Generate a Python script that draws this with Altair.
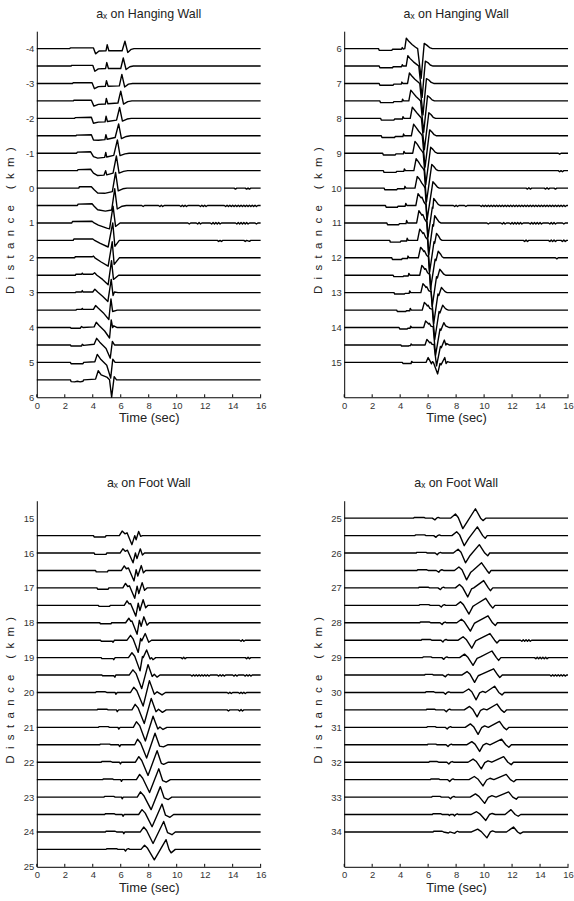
import altair as alt
import pandas as pd

# ---------------------------------------------------------------------------
# Time axis
TIME_TICKS = [0, 2, 4, 6, 8, 10, 12, 14, 16]
T_END = 16.0

# Each trace: station distance (km) -> list of (time s, amplitude) knots.
# Amplitude is in km units of the record section, positive = upward swing.
# Every trace rests on its baseline at t = 0 and t = 16.

# a_x on hanging wall, stations -4 ... 5.5 km
HW_NEAR = {
    -4.0: [(2.35, 0), (2.4, 0.02), (4.05, 0.02), (4.2, -0.15), (4.45, -0.07), (4.95, -0.06), (5.03, 0.11),
           (5.15, -0.06), (6.1, -0.06), (6.3, 0.21), (6.5, -0.11), (6.75, -0.02), (6.95, 0)],
    -3.5: [(2.45, 0), (2.5, 0.02), (4.0, 0.02), (4.15, -0.15), (4.4, -0.08), (4.92, -0.07), (5.0, 0.1),
           (5.12, -0.07), (6.0, -0.07), (6.18, 0.23), (6.38, -0.1), (6.65, -0.02), (6.9, 0)],
    -3.0: [(2.55, 0), (2.6, 0.02), (3.95, 0.02), (4.12, -0.15), (4.4, -0.09), (4.9, -0.08), (4.98, 0.08),
           (5.1, -0.08), (5.9, -0.07), (6.08, 0.26), (6.28, -0.1), (6.55, -0.02), (6.85, 0)],
    -2.5: [(2.6, 0), (2.65, 0.02), (3.9, 0.02), (4.08, -0.15), (4.4, -0.1), (4.9, -0.09), (4.97, 0.07),
           (5.08, -0.08), (5.8, -0.06), (6.0, 0.28), (6.2, -0.09), (6.5, -0.02), (6.8, 0)],
    -2.0: [(2.7, 0), (2.75, 0.02), (3.9, 0.03), (4.05, -0.14), (4.4, -0.11), (4.88, -0.1), (4.95, 0.06),
           (5.05, -0.09), (5.7, -0.05), (5.92, 0.31), (6.12, -0.08), (6.45, -0.02), (6.75, 0)],
    -1.5: [(2.8, 0), (2.85, 0.02), (3.9, 0.03), (4.05, -0.12), (4.4, -0.13), (4.87, -0.11), (4.94, 0.03),
           (5.03, -0.1), (5.6, -0.05), (5.85, 0.34), (6.05, -0.08), (6.4, -0.02), (6.7, 0)],
    -1.0: [(2.85, 0), (2.9, 0.03), (3.85, 0.04), (4.05, -0.1), (4.35, -0.14), (4.85, -0.12), (4.93, 0.02),
           (5.0, -0.11), (5.5, -0.06), (5.76, 0.38), (5.95, -0.07), (6.3, -0.02), (6.6, 0)],
    -0.5: [(2.9, 0), (2.95, 0.03), (3.85, 0.04), (4.05, -0.07), (4.35, -0.14), (4.8, -0.13), (4.92, 0.0),
           (5.0, -0.12), (5.45, -0.07), (5.69, 0.42), (5.88, -0.07), (6.2, -0.02), (6.5, 0)],
    0.0: [(3.0, 0), (3.05, 0.04), (3.9, 0.04), (4.1, -0.05), (4.35, -0.14), (4.85, -0.15), (5.4, -0.1),
          (5.63, 0.45), (5.82, -0.08), (6.15, -0.02), (6.45, 0), (14.1, 0), (14.2, -0.03), (14.3, 0.0),
          (14.9, 0), (15.0, -0.03), (15.1, 0.0), (15.2, -0.03), (15.3, 0.0)],
    0.5: [(2.9, 0), (2.95, 0.04), (3.95, 0.05), (4.1, -0.02), (4.35, -0.12), (4.9, -0.16), (5.35, -0.13),
          (5.57, 0.48), (5.75, -0.1), (6.1, -0.02), (6.4, 0), (7.5, 0), (7.6, -0.03), (7.7, 0.0),
          (8.7, 0), (8.8, -0.03), (8.9, 0.01), (9.0, -0.03), (9.1, 0.0), (10.2, 0), (10.3, -0.03),
          (10.4, 0.01), (10.5, -0.03), (10.6, 0.01), (10.7, -0.03), (10.8, 0.0), (11.6, 0), (11.7, -0.03),
          (11.8, 0.01), (11.9, -0.03), (12.0, 0.01), (12.1, -0.03), (12.2, 0.0), (13.4, 0), (13.5, -0.03),
          (13.6, 0.01), (13.7, -0.03), (13.8, 0.01), (13.9, -0.03), (14.0, 0.01), (14.1, -0.03),
          (14.2, 0.01), (14.3, -0.03), (14.4, 0.01), (14.5, -0.03), (14.6, 0.01), (14.7, -0.03),
          (14.8, 0.01), (14.9, -0.03), (15.0, 0.01), (15.1, -0.03), (15.2, 0.01), (15.3, -0.03),
          (15.4, 0.01), (15.5, -0.03), (15.6, 0.01), (15.7, -0.03), (15.8, 0.0)],
    1.0: [(2.5, 0), (2.55, 0.04), (3.95, 0.05), (4.1, 0.0), (4.4, -0.06), (5.0, -0.15), (5.2, -0.17),
          (5.45, 0.48), (5.63, -0.1), (5.95, 0), (10.8, 0), (10.9, -0.03), (11.0, 0.0), (11.4, 0),
          (11.5, -0.03), (11.6, 0.01), (11.7, -0.03), (11.8, 0.0), (12.4, 0), (12.5, -0.03), (12.6, 0.01),
          (12.7, -0.03), (12.8, 0.01), (12.9, -0.03), (13.0, 0.01), (13.1, -0.03), (13.2, 0.0), (14.2, 0),
          (14.3, -0.03), (14.4, 0.01), (14.5, -0.03), (14.6, 0.01), (14.7, -0.03), (14.8, 0.01),
          (14.9, -0.03), (15.0, 0.01), (15.1, -0.03), (15.2, 0.0), (15.6, 0), (15.7, -0.03), (15.8, 0.0)],
    1.5: [(2.6, 0), (2.65, 0.04), (4.0, 0.04), (4.1, 0.01), (4.5, -0.08), (5.1, -0.19), (5.43, 0.5),
          (5.58, -0.17), (5.9, 0), (12.9, 0), (13.0, -0.03), (13.1, 0.0), (13.2, -0.03), (13.3, 0.0),
          (14.8, 0), (14.9, -0.03), (15.0, 0.0), (15.2, -0.03), (15.3, 0.0)],
    2.0: [(2.7, 0), (2.75, 0.03), (3.95, 0.03), (4.05, 0.05), (4.15, 0.0), (4.6, -0.12), (5.1, -0.24),
          (5.39, 0.46), (5.53, -0.19), (5.9, 0)],
    2.5: [(2.75, 0), (2.8, 0.03), (3.2, 0.03), (3.25, 0.06), (3.3, 0.03), (4.0, 0.03), (4.13, 0.07),
          (4.3, 0.0), (4.7, -0.12), (5.1, -0.27), (5.34, 0.42), (5.48, -0.12), (5.85, 0)],
    3.0: [(2.75, 0), (2.8, 0.02), (3.2, 0.02), (3.25, 0.06), (3.3, 0.02), (4.0, 0.02), (4.15, 0.1),
          (4.35, 0.02), (4.7, -0.1), (5.08, -0.25), (5.32, 0.38), (5.45, -0.08), (5.55, 0.02), (5.8, 0)],
    3.5: [(2.8, 0), (2.85, 0.02), (3.2, 0.02), (3.25, 0.05), (3.3, 0.02), (4.05, 0.02), (4.2, 0.13),
          (4.4, 0.05), (4.8, -0.1), (5.15, -0.27), (5.3, 0.32), (5.42, -0.04), (5.75, 0)],
    4.0: [(2.4, 0), (2.45, -0.02), (3.1, -0.02), (3.2, 0.03), (3.3, 0.0), (4.1, 0.02), (4.25, 0.15),
          (4.45, 0.06), (4.85, -0.1), (5.2, -0.3), (5.32, 0.22), (5.42, 0.0), (5.5, 0.05), (5.75, 0)],
    4.5: [(2.4, 0), (2.45, -0.03), (3.2, -0.03), (3.25, 0.02), (3.35, -0.01), (4.1, 0.02), (4.28, 0.19),
          (4.5, 0.08), (4.95, -0.1), (5.25, -0.38), (5.4, 0.1), (5.55, 0.0), (5.8, 0)],
    5.0: [(2.4, 0), (2.45, -0.04), (3.3, -0.04), (3.35, 0.0), (4.15, 0.02), (4.32, 0.23), (4.55, 0.1),
          (5.0, -0.08), (5.28, -0.45), (5.43, 0.09), (5.6, 0.0), (5.85, 0)],
    5.5: [(2.4, 0), (2.45, -0.05), (2.7, -0.06), (2.9, -0.04), (3.1, -0.06), (3.3, -0.04), (3.35, 0.0),
          (4.2, 0.02), (4.39, 0.26), (4.6, 0.14), (5.0, 0.08), (5.2, 0.0), (5.35, -0.5), (5.53, 0.09),
          (5.7, 0.0), (5.9, 0)],
}

# a_x on hanging wall, stations 6 ... 15 km
HW_FAR = {
    6.0: [(2.45, 0), (2.5, -0.05), (3.4, -0.05), (3.45, -0.02), (4.1, -0.02), (4.15, 0.03), (4.22, -0.01),
          (4.33, 0.0), (4.44, 0.3), (4.6, 0.22), (4.85, 0.12), (5.1, 0.04), (5.25, 0.0), (5.5, -0.85),
          (5.72, 0.15), (5.9, 0.1), (6.1, 0.03), (6.3, 0)],
    6.5: [(2.5, 0), (2.55, -0.05), (3.45, -0.05), (3.5, -0.02), (4.1, -0.02), (4.15, 0.04), (4.22, 0.0),
          (4.43, 0.0), (4.55, 0.3), (4.7, 0.22), (4.95, 0.12), (5.2, 0.04), (5.33, 0.0), (5.57, -0.9),
          (5.8, 0.14), (5.98, 0.1), (6.15, 0.03), (6.35, 0)],
    7.0: [(2.5, 0), (2.55, -0.05), (3.5, -0.05), (3.55, -0.02), (4.08, -0.02), (4.12, 0.04), (4.2, 0.0),
          (4.53, 0.0), (4.66, 0.3), (4.82, 0.22), (5.05, 0.12), (5.28, 0.04), (5.4, 0.0), (5.63, -0.9),
          (5.88, 0.14), (6.05, 0.1), (6.22, 0.03), (6.4, 0)],
    7.5: [(2.55, 0), (2.6, -0.05), (3.5, -0.05), (3.55, -0.02), (4.13, -0.02), (4.17, 0.05), (4.25, 0.0),
          (4.62, 0.0), (4.76, 0.31), (4.92, 0.23), (5.15, 0.12), (5.36, 0.04), (5.46, 0.0), (5.68, -0.9),
          (5.96, 0.15), (6.12, 0.1), (6.28, 0.03), (6.45, 0)],
    8.0: [(2.6, 0), (2.65, -0.05), (3.55, -0.05), (3.6, -0.02), (4.16, -0.02), (4.2, 0.05), (4.28, 0.0),
          (4.72, 0.0), (4.87, 0.32), (5.03, 0.24), (5.25, 0.13), (5.45, 0.04), (5.52, 0.0), (5.73, -0.9),
          (6.05, 0.16), (6.2, 0.11), (6.36, 0.03), (6.53, 0)],
    8.5: [(2.65, 0), (2.7, -0.05), (3.6, -0.05), (3.65, -0.02), (4.2, -0.02), (4.24, 0.05), (4.32, 0.0),
          (4.8, 0.0), (4.96, 0.33), (5.12, 0.25), (5.33, 0.13), (5.52, 0.04), (5.58, 0.0), (5.78, -0.9),
          (6.11, 0.17), (6.27, 0.11), (6.43, 0.03), (6.6, 0)],
    9.0: [(2.75, 0), (2.8, -0.05), (3.65, -0.05), (3.7, -0.02), (4.23, -0.02), (4.27, 0.05), (4.35, 0.0),
          (4.9, 0.0), (5.06, 0.34), (5.22, 0.26), (5.42, 0.13), (5.6, 0.04), (5.65, 0.0), (5.83, -0.9),
          (6.18, 0.17), (6.34, 0.11), (6.5, 0.03), (6.65, 0), (15.3, 0), (15.4, -0.03), (15.5, 0.0)],
    9.5: [(2.8, 0), (2.85, -0.05), (3.7, -0.05), (3.75, -0.02), (4.26, -0.02), (4.3, 0.05), (4.38, 0.0),
          (4.98, 0.0), (5.14, 0.34), (5.3, 0.26), (5.48, 0.14), (5.66, 0.05), (5.72, 0.0), (5.88, -0.9),
          (6.26, 0.18), (6.42, 0.11), (6.58, 0.03), (6.72, 0), (15.3, 0), (15.4, -0.03), (15.5, 0.0),
          (15.6, -0.03), (15.7, 0.0)],
    10.0: [(2.85, 0), (2.9, -0.05), (3.75, -0.05), (3.8, -0.02), (4.3, -0.02), (4.34, 0.05), (4.42, 0.0),
           (5.06, 0.0), (5.22, 0.33), (5.38, 0.26), (5.55, 0.14), (5.72, 0.05), (5.78, 0.0), (5.93, -0.9),
           (6.34, 0.18), (6.5, 0.11), (6.66, 0.03), (6.8, 0), (13.0, 0), (13.1, -0.03), (13.2, 0.01),
           (13.3, -0.03), (13.4, 0.0), (14.3, 0), (14.4, -0.03), (14.5, 0.01), (14.6, -0.03), (14.7, 0.0),
           (15.0, 0), (15.1, -0.03), (15.2, 0.0)],
    10.5: [(2.95, 0), (3.0, -0.05), (3.8, -0.05), (3.85, -0.02), (4.36, -0.02), (4.4, 0.06), (4.48, 0.0),
           (5.12, 0.0), (5.28, 0.34), (5.42, 0.26), (5.5, 0.22), (5.56, 0.24), (5.7, 0.1), (5.84, 0.02),
           (5.99, -0.9), (6.3, -0.05), (6.34, -0.08), (6.4, 0.2), (6.56, 0.12), (6.72, 0.03), (6.85, 0),
           (7.8, 0), (7.9, -0.03), (8.0, 0.01), (8.1, -0.03), (8.2, 0.0), (8.6, 0), (8.7, -0.03), (8.8, 0.0),
           (9.7, 0), (9.8, -0.03), (9.9, 0.01), (10.0, -0.03), (10.1, 0.01), (10.2, -0.03), (10.3, 0.01),
           (10.4, -0.03), (10.5, 0.01), (10.6, -0.03), (10.7, 0.01), (10.8, -0.03), (10.9, 0.01),
           (11.0, -0.03), (11.1, 0.01), (11.2, -0.03), (11.3, 0.01), (11.4, -0.03), (11.5, 0.01),
           (11.6, -0.03), (11.7, 0.01), (11.8, -0.03), (11.9, 0.01), (12.0, -0.03), (12.1, 0.01),
           (12.2, -0.03), (12.3, 0.01), (12.4, -0.03), (12.5, 0.01), (12.6, -0.03), (12.7, 0.01),
           (12.8, -0.03), (12.9, 0.01), (13.0, -0.03), (13.1, 0.01), (13.2, -0.03), (13.3, 0.01),
           (13.4, -0.03), (13.5, 0.01), (13.6, -0.03), (13.7, 0.01), (13.8, -0.03), (13.9, 0.01),
           (14.0, -0.03), (14.1, 0.01), (14.2, -0.03), (14.3, 0.01), (14.4, -0.03), (14.5, 0.01),
           (14.6, -0.03), (14.7, 0.01), (14.8, -0.03), (14.9, 0.01), (15.0, -0.03), (15.1, 0.01),
           (15.2, -0.03), (15.3, 0.01), (15.4, -0.03), (15.5, 0.01), (15.6, -0.03), (15.7, 0.01),
           (15.8, -0.03), (15.9, 0.0)],
    11.0: [(3.05, 0), (3.1, -0.05), (3.9, -0.05), (3.95, -0.02), (4.42, -0.02), (4.46, 0.07), (4.54, 0.0),
           (5.18, 0.0), (5.34, 0.35), (5.48, 0.27), (5.56, 0.22), (5.62, 0.24), (5.76, 0.1), (5.9, 0.02),
           (6.05, -0.9), (6.33, -0.05), (6.38, -0.09), (6.47, 0.21), (6.62, 0.12), (6.78, 0.03), (6.9, 0),
           (10.2, 0), (10.3, -0.03), (10.4, 0.0), (11.2, 0), (11.3, -0.03), (11.4, 0.01), (11.5, -0.03),
           (11.6, 0.0), (11.8, 0), (11.9, -0.03), (12.0, 0.01), (12.1, -0.03), (12.2, 0.01), (12.3, -0.03),
           (12.4, 0.01), (12.5, -0.03), (12.6, 0.01), (12.7, -0.03), (12.8, 0.0), (13.2, 0), (13.3, -0.03),
           (13.4, 0.01), (13.5, -0.03), (13.6, 0.01), (13.7, -0.03), (13.8, 0.01), (13.9, -0.03),
           (14.0, 0.01), (14.1, -0.03), (14.2, 0.0), (14.6, 0), (14.7, -0.03), (14.8, 0.01), (14.9, -0.03),
           (15.0, 0.01), (15.1, -0.03), (15.2, 0.0), (15.6, 0), (15.7, -0.03), (15.8, 0.0)],
    11.5: [(3.25, 0), (3.3, -0.05), (4.0, -0.05), (4.05, -0.02), (4.46, -0.02), (4.5, 0.06), (4.58, 0.0),
           (5.24, 0.0), (5.4, 0.32), (5.54, 0.25), (5.62, 0.2), (5.68, 0.22), (5.82, 0.09), (5.96, 0.02),
           (6.11, -0.9), (6.42, -0.04), (6.47, -0.08), (6.6, 0.2), (6.75, 0.12), (6.88, 0.03), (7.0, 0),
           (12.8, 0), (12.9, -0.03), (13.0, 0.01), (13.1, -0.03), (13.2, 0.0), (14.6, 0), (14.7, -0.03),
           (14.8, 0.01), (14.9, -0.03), (15.0, 0.01), (15.1, -0.03), (15.2, 0.0), (15.5, 0), (15.6, -0.03),
           (15.7, 0.01), (15.8, -0.03), (15.9, 0.0)],
    12.0: [(3.4, 0), (3.45, -0.05), (4.1, -0.05), (4.15, -0.02), (4.52, -0.02), (4.56, 0.05), (4.64, 0.0),
           (5.3, 0.0), (5.46, 0.3), (5.6, 0.24), (5.68, 0.18), (5.74, 0.2), (5.88, 0.08), (6.02, 0.02),
           (6.17, -0.9), (6.5, -0.04), (6.56, -0.08), (6.72, 0.19), (6.88, 0.11), (7.0, 0.03), (7.12, 0),
           (15.1, 0), (15.2, -0.03), (15.3, 0.0)],
    12.5: [(3.5, 0), (3.55, -0.04), (4.2, -0.04), (4.25, -0.02), (4.58, -0.02), (4.62, 0.05), (4.7, 0.0),
           (5.4, 0.0), (5.55, 0.28), (5.68, 0.22), (5.76, 0.17), (5.82, 0.19), (5.96, 0.07), (6.12, 0.02),
           (6.29, -0.9), (6.6, -0.04), (6.66, -0.08), (6.83, 0.17), (6.98, 0.1), (7.12, 0.03), (7.25, 0)],
    13.0: [(3.56, 0), (3.61, -0.04), (4.3, -0.04), (4.35, -0.02), (4.64, -0.02), (4.68, 0.05), (4.76, 0.0),
           (5.48, 0.0), (5.63, 0.26), (5.76, 0.2), (5.84, 0.15), (5.9, 0.17), (6.04, 0.06), (6.22, 0.02),
           (6.4, -0.88), (6.7, -0.04), (6.76, -0.08), (6.95, 0.15), (7.1, 0.08), (7.24, 0.02), (7.36, 0)],
    13.5: [(3.75, 0), (3.8, -0.04), (4.4, -0.04), (4.45, -0.02), (4.68, -0.02), (4.72, 0.05), (4.8, 0.0),
           (5.58, 0.0), (5.73, 0.22), (5.86, 0.17), (5.94, 0.12), (6.0, 0.14), (6.12, 0.05), (6.3, 0.02),
           (6.47, -0.85), (6.78, -0.04), (6.84, -0.08), (7.04, 0.14), (7.18, 0.07), (7.32, 0.02), (7.45, 0)],
    14.0: [(3.92, 0), (3.97, -0.04), (4.5, -0.04), (4.55, -0.02), (4.71, -0.02), (4.75, 0.04), (4.83, 0.0),
           (5.68, 0.0), (5.82, 0.19), (5.95, 0.14), (6.03, 0.1), (6.09, 0.12), (6.2, 0.04), (6.36, 0.02),
           (6.53, -0.8), (6.85, -0.04), (6.91, -0.08), (7.12, 0.14), (7.25, 0.05), (7.4, 0.02), (7.52, 0)],
    14.5: [(4.05, 0), (4.1, -0.03), (4.6, -0.03), (4.65, -0.02), (4.74, -0.02), (4.78, 0.03), (4.86, 0.0),
           (5.78, 0.0), (5.91, 0.16), (6.04, 0.1), (6.12, 0.06), (6.18, 0.08), (6.28, 0.02), (6.42, 0.01),
           (6.6, -0.6), (6.88, -0.04), (6.94, -0.08), (7.16, 0.14), (7.27, 0.0), (7.33, 0.04), (7.5, 0)],
    15.0: [(4.15, 0), (4.2, -0.03), (4.78, -0.03), (4.82, 0.03), (4.9, 0.0), (5.85, 0.0), (6.0, 0.14),
           (6.12, 0.05), (6.24, -0.04), (6.3, 0.02), (6.38, 0.0), (6.68, -0.33), (6.85, -0.03), (6.92, -0.07),
           (7.19, 0.14), (7.28, -0.03), (7.38, 0.02), (7.55, 0)],
}

# a_x on foot wall, stations 15.5 ... 24.5 km
FW_NEAR = {
    15.5: [(4.05, 0), (4.1, -0.04), (4.9, -0.04), (4.95, 0), (5.9, 0.0), (6.1, 0.13), (6.3, 0.05), (6.45, 0.08),
           (6.8, -0.26), (7.0, 0.0), (7.1, -0.12), (7.28, 0.12), (7.42, -0.02), (7.55, 0)],
    16.0: [(4.1, 0), (4.15, -0.04), (4.95, -0.04), (5.0, 0), (5.95, 0.0), (6.15, 0.12), (6.32, 0.05), (6.48, 0.08),
           (6.88, -0.28), (7.05, 0.0), (7.16, -0.16), (7.4, 0.12), (7.55, -0.06), (7.7, 0)],
    16.5: [(4.2, 0), (4.25, -0.04), (5.05, -0.04), (5.1, 0), (6.05, 0.0), (6.25, 0.13), (6.4, 0.05), (6.55, 0.07),
           (6.95, -0.3), (7.1, 0.02), (7.22, -0.16), (7.47, 0.14), (7.62, -0.07), (7.78, 0)],
    17.0: [(4.3, 0), (4.35, -0.04), (5.1, -0.04), (5.15, 0), (6.15, 0.0), (6.34, 0.13), (6.5, 0.04), (6.62, 0.06),
           (7.0, -0.3), (7.17, 0.05), (7.29, -0.16), (7.53, 0.15), (7.7, -0.07), (7.88, 0)],
    17.5: [(4.4, 0), (4.45, -0.03), (5.2, -0.03), (5.25, 0), (6.25, 0.0), (6.45, 0.13), (6.6, 0.04), (6.7, 0.05),
           (7.08, -0.31), (7.25, 0.06), (7.37, -0.15), (7.6, 0.16), (7.78, -0.07), (7.95, 0)],
    18.0: [(4.5, 0), (4.55, -0.03), (5.3, -0.03), (5.35, 0), (6.35, 0.0), (6.58, 0.13), (6.72, 0.04), (6.8, 0.05),
           (7.17, -0.33), (7.33, 0.07), (7.46, -0.1), (7.65, 0.17), (7.88, -0.07), (8.05, 0)],
    18.5: [(4.55, 0), (4.6, -0.03), (5.4, -0.03), (5.45, -0.06), (5.55, 0.0), (6.45, 0.0), (6.7, 0.14),
           (6.88, 0.04), (7.25, -0.35), (7.42, 0.05), (7.5, -0.02), (7.75, 0.19), (8.0, -0.06), (8.2, 0),
           (14.5, 0), (14.6, -0.03), (14.7, 0.01), (14.8, -0.03), (14.9, 0.0)],
    19.0: [(4.6, 0), (4.65, -0.03), (5.45, -0.03), (5.5, -0.06), (5.6, 0.0), (6.55, 0.0), (6.8, 0.14),
           (7.0, 0.04), (7.38, -0.38), (7.55, 0.03), (7.6, 0.0), (7.85, 0.22), (8.1, -0.04), (8.2, 0.0),
           (8.3, -0.06), (8.5, 0), (10.3, 0), (10.4, -0.03), (10.5, 0.01), (10.6, -0.03), (10.7, 0.0),
           (14.9, 0), (15.0, -0.03), (15.1, 0.01), (15.2, -0.03), (15.3, 0.0)],
    19.5: [(4.65, 0), (4.7, -0.02), (5.5, -0.02), (5.58, -0.06), (5.65, 0.0), (6.6, 0.0), (6.87, 0.15),
           (7.1, 0.04), (7.5, -0.39), (7.95, 0.3), (8.25, -0.04), (8.4, 0.02), (8.6, -0.06), (8.8, 0),
           (11.0, 0), (11.1, -0.03), (11.2, 0.01), (11.3, -0.03), (11.4, 0.01), (11.5, -0.03), (11.6, 0.01),
           (11.7, -0.03), (11.8, 0.01), (11.9, -0.03), (12.0, 0.01), (12.1, -0.03), (12.2, 0.01),
           (12.3, -0.03), (12.4, 0.0), (12.9, 0), (13.0, -0.03), (13.1, 0.01), (13.2, -0.03), (13.3, 0.01),
           (13.4, -0.03), (13.5, 0.0), (14.0, 0), (14.1, -0.03), (14.2, 0.01), (14.3, -0.03), (14.4, 0.0),
           (14.8, 0), (14.9, -0.03), (15.0, 0.01), (15.1, -0.03), (15.2, 0.01), (15.3, -0.03), (15.4, 0.0)],
    20.0: [(4.2, 0), (4.25, 0.02), (4.9, 0.02), (5.0, 0.0), (5.6, 0.0), (5.65, -0.05), (5.75, 0.0), (6.7, 0.0),
           (6.93, 0.15), (7.15, 0.05), (7.6, -0.39), (8.05, 0.34), (8.4, -0.05), (8.6, 0.02), (8.95, -0.07),
           (9.2, 0), (13.6, 0), (13.7, -0.03), (13.8, 0.01), (13.9, -0.03), (14.0, 0.0), (14.4, 0),
           (14.5, -0.03), (14.6, 0.01), (14.7, -0.03), (14.8, 0.01), (14.9, -0.03), (15.0, 0.0)],
    20.5: [(4.3, 0), (4.35, 0.02), (5.0, 0.02), (5.1, 0.0), (5.7, 0.0), (5.75, -0.05), (5.85, 0.0), (6.8, 0.0),
           (7.03, 0.16), (7.25, 0.05), (7.68, -0.39), (8.18, 0.33), (8.52, -0.05), (8.7, 0.02), (8.98, -0.07),
           (9.25, 0), (13.6, 0), (13.7, -0.03), (13.8, 0.0), (14.4, 0), (14.5, -0.03), (14.6, 0.01),
           (14.7, -0.03), (14.8, 0.0)],
    21.0: [(4.4, 0), (4.45, 0.02), (5.1, 0.02), (5.2, 0.0), (5.8, 0.0), (5.86, -0.05), (5.95, 0.0), (6.9, 0.0),
           (7.12, 0.16), (7.35, 0.05), (7.76, -0.39), (8.31, 0.32), (8.65, -0.05), (8.8, 0.01), (9.02, -0.06),
           (9.3, 0)],
    21.5: [(4.5, 0), (4.55, 0.02), (5.2, 0.02), (5.3, 0.0), (5.85, 0.0), (5.92, -0.05), (6.0, 0.0), (7.0, 0.0),
           (7.2, 0.16), (7.42, 0.05), (7.85, -0.38), (8.45, 0.33), (8.78, -0.04), (9.05, -0.06), (9.35, 0)],
    22.0: [(4.6, 0), (4.65, 0.02), (5.3, 0.02), (5.4, 0.0), (5.9, 0.0), (5.98, -0.05), (6.05, 0.0), (7.05, 0.0),
           (7.29, 0.16), (7.5, 0.05), (7.95, -0.38), (8.6, 0.33), (8.9, -0.03), (9.07, -0.06), (9.4, 0)],
    22.5: [(4.7, 0), (4.75, 0.02), (5.4, 0.02), (5.5, 0.0), (6.0, 0.0), (6.05, -0.05), (6.12, 0.0), (7.12, 0.0),
           (7.35, 0.15), (7.57, 0.04), (8.06, -0.37), (8.72, 0.31), (9.0, -0.03), (9.25, -0.07), (9.55, 0)],
    23.0: [(4.8, 0), (4.85, 0.02), (5.5, 0.02), (5.6, 0.0), (6.05, 0.0), (6.1, -0.05), (6.18, 0.0), (7.18, 0.0),
           (7.41, 0.15), (7.65, 0.04), (8.17, -0.36), (8.83, 0.3), (9.1, -0.02), (9.4, -0.07), (9.65, 0)],
    23.5: [(4.85, 0), (4.9, 0.02), (5.55, 0.02), (5.65, 0.0), (6.1, 0.0), (6.16, -0.05), (6.24, 0.0), (7.28, 0.0),
           (7.52, 0.14), (7.75, 0.04), (8.24, -0.35), (8.95, 0.3), (9.2, -0.02), (9.52, -0.08), (9.78, 0)],
    24.0: [(4.9, 0), (4.95, 0.02), (5.6, 0.02), (5.7, 0.0), (6.15, 0.0), (6.22, -0.05), (6.3, 0.0), (7.4, 0.0),
           (7.64, 0.14), (7.85, 0.04), (8.31, -0.33), (9.07, 0.3), (9.35, -0.02), (9.66, -0.08), (9.9, 0)],
    24.5: [(4.95, 0), (5.0, 0.02), (5.7, 0.02), (5.8, 0.0), (6.25, 0.0), (6.34, -0.05), (6.42, 0.0), (6.55, 0.02),
           (6.65, 0.0), (7.45, 0.0), (7.7, 0.12), (7.92, 0.03), (8.4, -0.3), (9.24, 0.28), (9.45, 0.0),
           (9.6, -0.1), (9.9, 0)],
}

# a_x on foot wall, stations 25 ... 34 km
FW_FAR = {
    25.0: [(4.95, 0), (5.0, 0.02), (5.7, 0.02), (5.8, 0.0), (6.3, 0.0), (6.48, -0.05), (6.6, 0.0), (6.72, 0.02),
           (6.85, 0.0), (7.6, 0.0), (7.95, 0.12), (8.15, 0.02), (8.48, -0.3), (8.8, -0.1), (9.38, 0.27),
           (9.75, 0.0), (9.92, -0.07), (10.12, 0)],
    25.5: [(5.05, 0), (5.1, 0.02), (5.75, 0.02), (5.85, 0.0), (6.4, 0.0), (6.56, -0.05), (6.68, 0.0), (6.8, 0.02),
           (6.92, 0.0), (7.7, 0.0), (8.04, 0.11), (8.25, 0.02), (8.58, -0.29), (8.9, -0.08), (9.52, 0.25),
           (9.9, 0.0), (10.08, -0.08), (10.22, 0)],
    26.0: [(5.15, 0), (5.2, 0.02), (5.85, 0.02), (5.95, 0.0), (6.5, 0.0), (6.65, -0.05), (6.76, 0.0), (6.88, 0.02),
           (7.0, 0.0), (7.8, 0.0), (8.14, 0.11), (8.35, 0.02), (8.67, -0.28), (9.0, -0.07), (9.66, 0.24),
           (10.05, 0.0), (10.26, -0.08), (10.4, 0)],
    26.5: [(5.2, 0), (5.25, 0.02), (5.9, 0.02), (6.0, 0.0), (6.58, 0.0), (6.76, -0.05), (6.86, 0.0), (6.98, 0.02),
           (7.1, 0.0), (7.88, 0.0), (8.2, 0.1), (8.42, 0.02), (8.75, -0.27), (9.05, -0.05), (9.2, 0.0),
           (9.82, 0.22), (10.2, 0.0), (10.36, -0.08), (10.5, 0)],
    27.0: [(5.3, 0), (5.35, 0.02), (6.0, 0.02), (6.1, 0.0), (6.7, 0.0), (6.88, -0.05), (6.98, 0.0), (7.1, 0.02),
           (7.2, 0.0), (7.95, 0.0), (8.24, 0.1), (8.45, 0.02), (8.83, -0.26), (9.1, -0.03), (9.26, 0.0),
           (9.97, 0.21), (10.3, 0.0), (10.45, -0.08), (10.62, 0)],
    27.5: [(5.35, 0), (5.4, 0.02), (6.05, 0.02), (6.15, 0.0), (6.78, 0.0), (6.94, -0.05), (7.04, 0.0),
           (7.16, 0.02), (7.26, 0.0), (8.0, 0.0), (8.31, 0.1), (8.52, 0.02), (8.92, -0.25), (9.2, -0.03),
           (9.35, 0.01), (10.12, 0.2), (10.45, 0.0), (10.62, -0.08), (10.78, 0)],
    28.0: [(5.4, 0), (5.45, 0.02), (6.1, 0.02), (6.2, 0.0), (6.85, 0.0), (7.0, -0.05), (7.1, 0.0), (7.22, 0.02),
           (7.32, 0.0), (8.05, 0.0), (8.38, 0.1), (8.6, 0.02), (9.02, -0.24), (9.3, -0.02), (9.45, 0.02),
           (10.28, 0.2), (10.6, 0.0), (10.8, -0.08), (10.95, 0)],
    28.5: [(5.5, 0), (5.55, 0.02), (6.15, 0.02), (6.25, 0.0), (6.92, 0.0), (7.06, -0.05), (7.16, 0.0),
           (7.28, 0.02), (7.38, 0.0), (8.15, 0.0), (8.5, 0.1), (8.72, 0.02), (9.12, -0.23), (9.4, -0.02),
           (9.6, 0.02), (10.42, 0.19), (10.75, 0.0), (10.92, -0.08), (11.1, 0), (12.6, 0), (12.7, -0.03),
           (12.8, 0.01), (12.9, -0.03), (13.0, 0.01), (13.1, -0.03), (13.2, 0.01), (13.3, -0.03), (13.4, 0.0)],
    29.0: [(5.6, 0), (5.65, 0.02), (6.2, 0.02), (6.3, 0.0), (6.98, 0.0), (7.12, -0.05), (7.22, 0.0), (7.34, 0.02),
           (7.44, 0.0), (8.25, 0.0), (8.6, 0.1), (8.82, 0.02), (9.21, -0.22), (9.5, -0.02), (9.74, 0.02),
           (10.56, 0.19), (10.88, 0.0), (11.04, -0.08), (11.2, 0), (13.6, 0), (13.7, -0.03), (13.8, 0.01),
           (13.9, -0.03), (14.0, 0.01), (14.1, -0.03), (14.2, 0.01), (14.3, -0.03), (14.4, 0.01),
           (14.5, -0.03), (14.6, 0.0)],
    29.5: [(5.75, 0), (5.8, 0.02), (6.3, 0.02), (6.4, 0.0), (7.05, 0.0), (7.24, -0.05), (7.34, 0.0),
           (7.45, 0.02), (7.55, 0.0), (8.4, 0.0), (8.78, 0.1), (9.0, 0.02), (9.32, -0.21), (9.58, -0.02),
           (9.8, 0.02), (10.68, 0.18), (10.98, 0.0), (11.12, -0.07), (11.3, 0), (14.7, 0), (14.8, -0.03),
           (14.9, 0.01), (15.0, -0.03), (15.1, 0.01), (15.2, -0.03), (15.3, 0.01), (15.4, -0.03),
           (15.5, 0.01), (15.6, -0.03), (15.7, 0.01), (15.8, -0.03), (15.9, 0.0)],
    30.0: [(5.8, 0), (5.85, 0.02), (6.4, 0.02), (6.5, 0.0), (7.1, 0.0), (7.24, -0.05), (7.36, 0.0), (7.48, 0.02),
           (7.58, 0.0), (8.5, 0.0), (8.9, 0.1), (9.12, 0.02), (9.43, -0.21), (9.68, -0.01), (9.9, 0.03),
           (10.1, 0.0), (10.75, 0.18), (11.05, 0.0), (11.28, -0.07), (11.45, 0)],
    30.5: [(5.85, 0), (5.9, 0.02), (6.45, 0.02), (6.55, 0.0), (7.16, 0.0), (7.3, -0.05), (7.42, 0.0),
           (7.54, 0.02), (7.64, 0.0), (8.58, 0.0), (8.96, 0.1), (9.18, 0.02), (9.5, -0.2), (9.75, -0.01),
           (9.97, 0.03), (10.2, 0.0), (10.92, 0.17), (11.22, 0.0), (11.44, -0.07), (11.6, 0)],
    31.0: [(5.9, 0), (5.95, 0.02), (6.5, 0.02), (6.6, 0.0), (7.22, 0.0), (7.36, -0.05), (7.48, 0.0),
           (7.6, 0.02), (7.7, 0.0), (8.65, 0.0), (9.02, 0.1), (9.25, 0.02), (9.57, -0.2), (9.82, -0.01),
           (10.04, 0.04), (10.3, 0.0), (11.1, 0.17), (11.4, 0.0), (11.6, -0.07), (11.78, 0)],
    31.5: [(5.95, 0), (6.0, 0.02), (6.55, 0.02), (6.65, 0.0), (7.28, 0.0), (7.42, -0.05), (7.54, 0.0),
           (7.66, 0.02), (7.76, 0.0), (8.75, 0.0), (9.12, 0.09), (9.35, 0.02), (9.68, -0.19), (9.93, -0.01),
           (10.16, 0.04), (10.42, 0.0), (11.25, 0.16), (11.55, 0.0), (11.77, -0.07), (11.95, 0)],
    32.0: [(6.05, 0), (6.1, 0.02), (6.65, 0.02), (6.75, 0.0), (7.34, 0.0), (7.48, -0.05), (7.6, 0.0),
           (7.72, 0.02), (7.82, 0.0), (8.85, 0.0), (9.21, 0.09), (9.45, 0.02), (9.8, -0.19), (10.05, -0.01),
           (10.28, 0.04), (10.55, 0.0), (11.4, 0.16), (11.7, 0.0), (11.94, -0.07), (12.1, 0)],
    32.5: [(6.15, 0), (6.2, 0.02), (6.75, 0.02), (6.85, 0.0), (7.4, 0.0), (7.54, -0.05), (7.66, 0.0),
           (7.78, 0.02), (7.88, 0.0), (8.92, 0.0), (9.3, 0.09), (9.55, 0.02), (9.92, -0.18), (10.18, -0.01),
           (10.42, 0.04), (10.7, 0.0), (11.58, 0.15), (11.88, 0.0), (12.12, -0.06), (12.3, 0)],
    33.0: [(6.25, 0), (6.3, 0.02), (6.85, 0.02), (6.95, 0.0), (7.45, 0.0), (7.6, -0.05), (7.72, 0.0),
           (7.84, 0.02), (7.94, 0.0), (9.0, 0.0), (9.38, 0.09), (9.63, 0.02), (10.04, -0.18), (10.3, -0.01),
           (10.56, 0.04), (10.85, 0.0), (11.75, 0.15), (12.05, 0.0), (12.3, -0.06), (12.45, 0)],
    33.5: [(6.3, 0), (6.35, 0.02), (6.92, 0.02), (7.02, 0.0), (7.45, 0.0), (7.52, -0.03), (7.6, 0.0),
           (7.8, 0.0), (7.88, -0.04), (7.97, 0.0), (8.08, 0.02), (8.18, 0.0), (9.05, 0.0), (9.46, 0.08),
           (9.72, 0.01), (10.12, -0.17), (10.38, 0.0), (10.58, 0.03), (10.8, 0.0), (11.5, 0.0), (11.92, 0.14),
           (12.22, 0.0), (12.44, -0.05), (12.62, 0)],
    34.0: [(6.35, 0), (6.4, 0.02), (7.0, 0.02), (7.1, 0.0), (7.45, -0.03), (7.55, 0.0), (7.9, -0.04),
           (8.0, 0.0), (8.1, 0.02), (8.2, 0.0), (9.1, 0.0), (9.54, 0.08), (9.8, 0.01), (10.2, -0.17),
           (10.45, 0.0), (10.6, 0.03), (10.8, 0.0), (11.6, 0.0), (12.1, 0.14), (12.4, 0.0), (12.58, -0.05),
           (12.8, 0)],
}

HW_NEAR_TICKS = [-4, -3, -2, -1, 0, 1, 2, 3, 4, 5, 6]
HW_FAR_TICKS = [6, 7, 8, 9, 10, 11, 12, 13, 14, 15]
FW_NEAR_TICKS = [15, 16, 17, 18, 19, 20, 21, 22, 23, 24, 25]
FW_FAR_TICKS = [25, 26, 27, 28, 29, 30, 31, 32, 33, 34]

PLOT_W, PLOT_H = 225, 368
FONT = "Liberation Sans"
# widely spaced vertical axis caption (no-break spaces survive SVG whitespace collapsing)
Y_CAPTION = "\u00a0\u00a0".join("Distance (km)")


def trace_table(traces):
    rows = []
    for dist, knots in traces.items():
        seq = [(0.0, 0.0)] + knots + [(T_END, 0.0)]
        for k, (t, amp) in enumerate(seq):
            rows.append({"trace": dist, "k": k, "t": t, "y": dist - amp})
    return pd.DataFrame(rows)


def panel(traces, y_domain, y_ticks, title):
    x_enc = alt.X(
        "t:Q",
        scale=alt.Scale(domain=[0, T_END], nice=False, zero=False),
        axis=alt.Axis(values=TIME_TICKS, title="Time (sec)", labelExpr="'' + datum.value"),
    )
    lines = alt.Chart(trace_table(traces)).mark_line(
        color="black", strokeWidth=1.4, strokeJoin="round"
    ).encode(
        x=x_enc,
        y=alt.Y(
            "y:Q",
            scale=alt.Scale(domain=y_domain, reverse=True, nice=False, zero=False),
            axis=alt.Axis(values=y_ticks, title=Y_CAPTION, labelExpr="'' + datum.value"),
        ),
        detail="trace:N",
        order="k:Q",
    )
    # short inward ticks on the time axis
    ticks = alt.Chart(pd.DataFrame({"t": TIME_TICKS})).mark_rule(
        color="black", strokeWidth=1
    ).encode(x=x_enc, y=alt.value(PLOT_H), y2=alt.value(PLOT_H - 3))
    return alt.layer(lines, ticks).properties(
        width=PLOT_W,
        height=PLOT_H,
        title=alt.TitleParams(
            title, font=FONT, fontSize=12.5, fontWeight="normal", color="#222",
            anchor="middle", frame="group", baseline="alphabetic", offset=1,
        ),
    )


p1 = panel(HW_NEAR, [-4.5, 6], HW_NEAR_TICKS, "a\u2093 on Hanging Wall")
p2 = panel(HW_FAR, [5.5, 16], HW_FAR_TICKS, "a\u2093 on Hanging Wall")
p3 = panel(FW_NEAR, [14.5, 25], FW_NEAR_TICKS, "a\u2093 on Foot Wall")
p4 = panel(FW_FAR, [24.5, 35], FW_FAR_TICKS, "a\u2093 on Foot Wall")

chart = alt.concat(
    p1, p2, p3, p4,
    columns=2,
    spacing={"row": 104, "column": 84},
    bounds="flush",
).properties(
    padding={"left": 5, "top": 5, "right": 0, "bottom": 0},
    background="white",
).configure_view(
    stroke=None
).configure_axis(
    domainColor="black",
    domainWidth=1,
    ticks=False,
    grid=False,
    labelFont=FONT,
    labelFontSize=9.5,
    labelColor="#333",
    labelPadding=3,
    labelFlush=False,
    labelOverlap=False,
    titleFont=FONT,
    titleFontWeight="normal",
    titleColor="#222",
).configure_axisX(
    titleFontSize=13,
    titlePadding=2,
).configure_axisY(
    titleFontSize=11.5,
    titleAngle=-90,
    titleX=-23,
    titleY=190,
    titleAlign="center",
    titleBaseline="alphabetic",
)

chart.save("out.html", embed_options={"renderer": "svg", "actions": False})
